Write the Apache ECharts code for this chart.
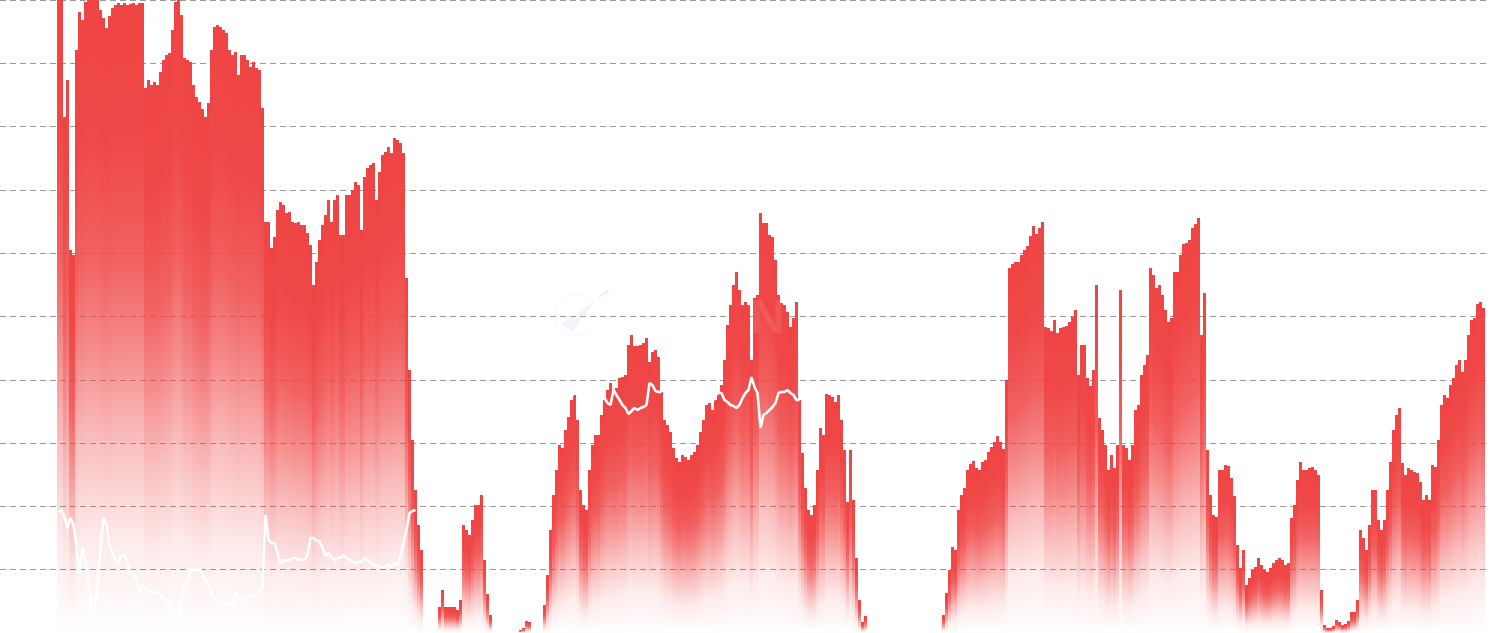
<!DOCTYPE html>
<html><head><meta charset="utf-8">
<style>html,body{margin:0;padding:0;background:#fff}#c{width:1490px;height:633px}</style>
<script src="https://cdn.jsdelivr.net/npm/echarts@6/dist/echarts.min.js"></script>
</head><body><div id="c"></div>
<script>
const nulls = n => new Array(n).fill(null);
const barsLead = nulls(19);
const barsA = [633,633,516,553,383,378,583,621,613,631,633,633,633,633,623,615,605,617,625,628,630,628,630,628,629,630,628,630,630];
const barsB = [545,553,548,551,548,561,573,578,580,603,631,633,618,575,573,571,548,536,531,524,516,530,583,606,608,606,603,600,583,578,581,558,578,578,573,566,571,565,563,525];
const barsC = [411,411,385,396,423,431,428,420,421,411,410,411,408,408,400,388,348,371,393,408,418,433,411,433,438,398,398,438,438,443,451,448,403,456,465,468,470,433,461,478,481,486,480,495,493,490,480,355,263,193,143,108,83];
const barsD = [26,43,26,26,26,26,23,33,108,103,98,113,128,128,138,73,39,18];
const barsE = [3,5,12,11];
const barsF = [28,58,103,138,163,188,185,203,216,233,238,213,143,128,123,163,188,198,198,218,233,243,250,243,245,255,256,258,288,298,287,287,288,290,295,271,281,283,276,241,213,208,201,185,175,171,178,176,173,178,181,188,201,213,228,230,223,233,240,248,273,308,328,348,361,343,328,331,328,273,335,338,420,410,410,398,396,373,338,330,328,321,306,315,331,233,180,145,123,118,128,163,205,198,239,238,236,231,238,213,183,131,183,133,75,33,11,17];
const barsG = [18,40,63,86,83,123,138,145,163,169,172,165,163,171,173,181,186,191,197,191,184,253,365,369,371,371,378,383,387,397,407,399,405,411,306,305,302,313,300,305,306,307,311,316,323,258,288,288,255,247,263,348,215,203,188,163,178,165,188,343,188,185,173,188,223,228,258,268,278,365,358,345,348,338,323,311,315,361,361,378,389,390,393,405,409,415,298,340,183,138,118,116,163,163,168,167,155,137,88,65,83,48,55,63,66,75,68,63,61,65,70,73,75,73,68,70,115,128,153,171,163,163,165,166,163,158,43,8,5,5,7,13,11,8,9,12,21,21,33,103,95,83,108,143,143,113,103,113,143,171,203,218,225,170,158,165,163,161,160,151,133,138,133,168,166,193,228,238,235,248,255,268,273,261,273,298,313,315,329,331,325];
const barValues = [].concat(barsLead, barsA, barsB, barsC, nulls(5), barsD, nulls(9), barsE, nulls(4), barsF, nulls(25), barsG, nulls(1));

const lineA = [121,123,116,105,115,108,86,60,85,70,50,25,22,45,85,115,108,88,80,72,70,78,78,70,60,58,55,40,45,45,40,42,41,41,38,35,32,28,22,15,15,30,50,48,64,63,63,65,58,53,50,38,35,33,31,30,30,28,28,40,36,33,35,35,38,38,40,42,45];
const lineB = [118,93,90,90,80,70,73,72,73,75,75,73,73,73,78,95,95,92,92,85,77,80,75,73,75,75,78,75,73,71,70,71,71,75,73,70,68,68,66,66,66,68,66,70,68,76,90,103,120,122,123];
const lineC = [235,245];
const lineD = [235,230,228,243,238,233,228,225,219,222,225,223,225,226,228,250,248,242,241,241];
const lineE = [241,233,231,238,240,240,233,231,228,227,225,228,235,240,243,256,246,240,205,218,220,223,226,230,240,241,241,243,240,238,233,233];
const lineValues = [].concat(nulls(19), lineA, lineB, nulls(51), lineC, nulls(9), lineD, nulls(14), lineE, nulls(229));

const categories = barValues.map((_, i) => i);
const chart = echarts.init(document.getElementById('c'), null, {renderer:'canvas'});
chart.setOption({
  animation:false,
  backgroundColor:'#fff',
  grid:{left:0,top:0,right:2,bottom:0,containLabel:false},
  xAxis:{type:'category',data:categories,boundaryGap:true,axisLine:{show:false},axisTick:{show:false},axisLabel:{show:false},splitLine:{show:false}},
  yAxis:{type:'value',min:0,max:633,interval:63.3,axisLine:{show:false},axisTick:{show:false},axisLabel:{show:false},
    splitLine:{show:true,lineStyle:{color:'#999',width:1,type:[6,4]}}},
  series:[
    {type:'bar',data:barValues,barWidth:'100%',barGap:'-100%',clip:true,
      itemStyle:{color:new echarts.graphic.LinearGradient(0,0,0,1,[
        {offset:0,color:'rgba(239,68,68,1)'},
        {offset:0.2,color:'rgba(239,68,68,0.98)'},
        {offset:0.4,color:'rgba(239,68,68,0.85)'},
        {offset:0.55,color:'rgba(239,68,68,0.62)'},
        {offset:0.7,color:'rgba(239,68,68,0.34)'},
        {offset:0.85,color:'rgba(239,68,68,0.11)'},
        {offset:1,color:'rgba(239,68,68,0)'}])}},
    {type:'line',data:lineValues,showSymbol:false,connectNulls:false,smooth:false,z:5,
      lineStyle:{color:'#fff',width:2.6}}
  ],
  graphic:[
    {type:'arc',z:10,shape:{cx:575,cy:315,r:21,startAngle:0.6,endAngle:5.5},style:{fill:'none',stroke:'rgba(190,195,225,0.16)',lineWidth:1}},
    {type:'polygon',z:10,shape:{points:[[562,324],[596,300],[572,331]]},style:{fill:'rgba(190,195,245,0.2)'}},
    {type:'line',z:10,shape:{x1:599,y1:297,x2:609,y2:290},style:{stroke:'rgba(190,190,200,0.25)',lineWidth:2}},
    {type:'text',z:10,style:{text:'N',x:750,y:296,fill:'rgba(255,255,255,0.09)',font:'bold 48px "Liberation Sans"'}}
  ]
});
</script></body></html>
